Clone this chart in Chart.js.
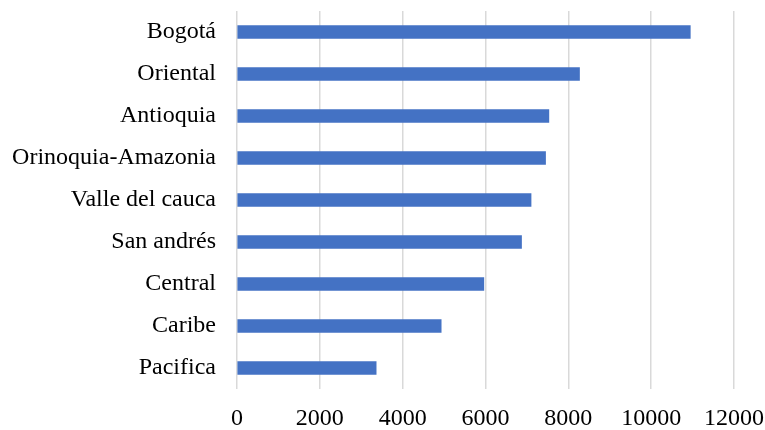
<!DOCTYPE html>
<html>
<head>
<meta charset="utf-8">
<script src="https://cdn.jsdelivr.net/npm/chart.js@4"></script>
<style>
  html, body { margin: 0; padding: 0; background: #ffffff; }
  #wrap { width: 765px; height: 430px; }
</style>
</head>
<body>
<div id="wrap"><canvas id="c" width="765" height="430"></canvas></div>
<script>
const categories = ["Bogotá", "Oriental", "Antioquia", "Orinoquia-Amazonia", "Valle del cauca", "San andrés", "Central", "Caribe", "Pacifica"];
const values = [10945, 8270, 7530, 7450, 7100, 6870, 5960, 4930, 3360];
const xTicks = [0, 2000, 4000, 6000, 8000, 10000, 12000];

const font = { family: "'Liberation Serif', 'Times New Roman', serif", size: 24 };

new Chart(document.getElementById('c'), {
  type: 'bar',
  data: {
    labels: categories,
    datasets: [{
      data: values,
      backgroundColor: '#4472C4',
      borderWidth: 0,
      barThickness: 13
    }]
  },
  options: {
    indexAxis: 'y',
    responsive: false,
    animation: false,
    layout: { padding: { top: 11, left: 0, right: 31, bottom: 0 } },
    plugins: { legend: { display: false }, tooltip: { enabled: false } },
    scales: {
      x: {
        min: 0,
        max: 12000,
        afterBuildTicks: (axis) => { axis.ticks = xTicks.map(v => ({ value: v })); },
        afterFit: (axis) => { axis.height = 41; axis.paddingLeft = 0; axis.paddingRight = 0; },
        grid: { color: '#d9d9d9', lineWidth: 1.5, drawTicks: false },
        border: { display: false },
        ticks: { color: '#000', font: font, padding: 15, maxRotation: 0, callback: (v) => String(v) }
      },
      y: {
        afterFit: (axis) => { axis.width = 237; axis.paddingTop = 0; axis.paddingBottom = 0; },
        grid: { display: false, drawTicks: false },
        border: { display: false },
        ticks: { color: '#000', font: font, padding: 21 }
      }
    }
  }
});
</script>
</body>
</html>
